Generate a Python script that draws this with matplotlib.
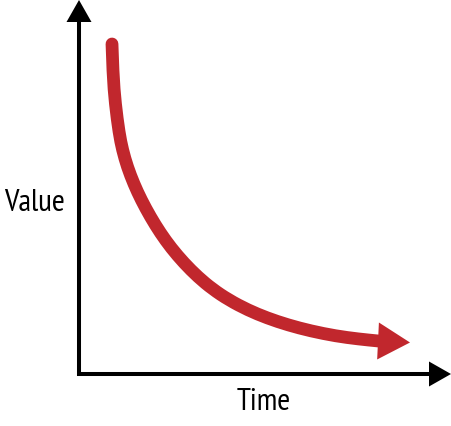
import numpy as np
import matplotlib
matplotlib.use('Agg')
import matplotlib.pyplot as plt
from matplotlib.path import Path
from matplotlib.patches import PathPatch

# curve (time, value), origin at the axes corner
time = [33, 33.9, 36.3, 40.1, 43.5, 48.4, 54.9, 62.3, 71.5, 81.4, 92.2,
        105.0, 119.0, 133.4, 149.9, 168.9, 188.1, 209.1, 231.9, 256.9, 279.4, 299.4]
value = [330, 300, 270, 241, 224, 207, 190, 174, 157, 141, 126,
         111, 97, 85, 74, 64, 56, 49, 43, 38, 35, 33]
tip = (331, 31.5)

red = '#C1272D'
font = dict(family=['PT Sans Narrow', 'Fira Sans Condensed', 'Archivo Narrow',
                    'Roboto Condensed', 'Barlow Semi Condensed', 'DejaVu Sans'],
            fontsize=22.5)

fig = plt.figure(figsize=(4.51, 4.26), dpi=100)
ax = fig.add_axes([0, 0, 1, 1])
ax.set_xlim(-79, 372)
ax.set_ylim(-52, 374)
ax.axis('off')

# axes with arrowheads
ax.plot([0, 0], [-2, 353], color='black', lw=2.9, solid_capstyle='butt')
ax.plot([-2, 351], [0, 0], color='black', lw=2.9, solid_capstyle='butt')
ax.fill([-12.5, 12.5, 0], [352, 352, 374], color='black', lw=0)
ax.fill([350, 350, 372], [-12.5, 12.5, 0], color='black', lw=0)

# decaying curve, smoothed through the read points
pts = np.column_stack([time, value]).astype(float)
verts = [pts[0]]
codes = [Path.MOVETO]
for i in range(1, len(pts) - 1):
    verts += [pts[i], (pts[i] + pts[i + 1]) / 2]
    codes += [Path.CURVE3, Path.CURVE3]
verts.append(pts[-1])
codes.append(Path.LINETO)
ax.add_patch(PathPatch(Path(verts, codes), fill=False, edgecolor=red, lw=9.2,
                       capstyle='round', joinstyle='round'))
d = np.array(tip) - pts[-1]
d = d / np.hypot(*d)
n = np.array([-d[1], d[0]])
base = np.array(tip) - 32 * d
tri = np.array([base + 18.5 * n, base - 18.5 * n, tip])
ax.fill(tri[:, 0], tri[:, 1], color=red, lw=0)

ax.text(-45, 171, 'Value', ha='center', va='center', **font)
ax.text(185, -28, 'Time', ha='center', va='center', **font)

fig.savefig('out.png', dpi=100)
